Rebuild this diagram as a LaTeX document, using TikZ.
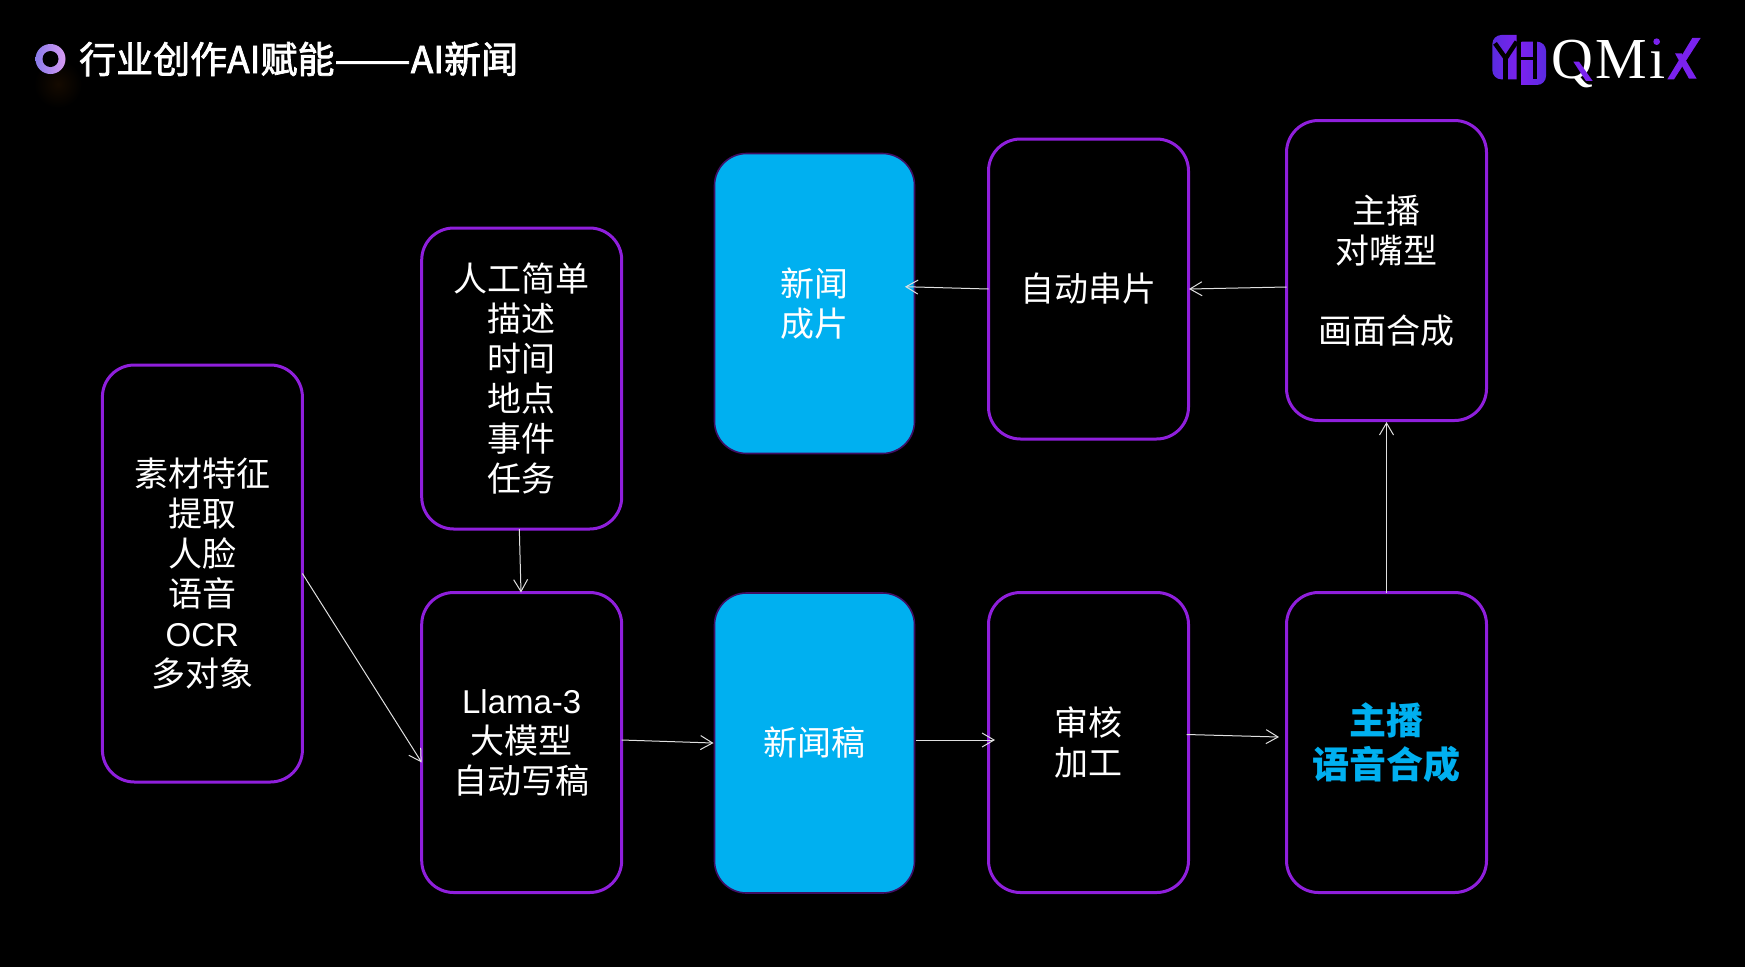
\documentclass[tikz,border=0pt]{standalone}
\usepackage{fontspec}
\setmainfont{Noto Sans CJK SC}
\newfontfamily\titlefont[FakeBold=2]{Noto Sans CJK SC}
\newfontfamily\logofont{Liberation Serif}
\newfontfamily\latinpart{Liberation Sans}
\usetikzlibrary{arrows.meta,calc,shadings}
\definecolor{boxpurple}{HTML}{8F1FDC}
\definecolor{newsblue}{HTML}{00B0F0}
\definecolor{logopurple}{HTML}{7A22EE}
\definecolor{logodeep}{HTML}{5A2BE0}
\definecolor{ringl}{HTML}{8A7BEA}
\definecolor{ringr}{HTML}{D79BF2}
\tikzset{
  flowbox/.style={draw=boxpurple,line width=3pt,rounded corners=32pt,minimum width=200pt,outer sep=0pt,anchor=north west,inner sep=0pt,text=white,align=center,font=\fontsize{34}{40}\selectfont},
  bluebox/.style={flowbox,draw=boxpurple!45!black,line width=1.6pt,fill=newsblue},
  logoletter/.style={anchor=base west,inner sep=0pt,text=white,font=\fontsize{58}{60}\logofont},
  arr/.style={draw=white!88!black,line width=1pt,-{Straight Barb[length=12pt,width=14pt,line width=1pt]}}
}
\begin{document}
\begin{tikzpicture}[x=1pt,y=-1pt]
\fill[black] (0,0) rectangle (1745,967);
\useasboundingbox (0,0) rectangle (1745,967);
% title marker
\shade[inner color=orange!8!black,outer color=black] (58,84) circle (24);
\shade[left color=ringl,right color=ringr] (50.5,59) circle (15);
\fill[black] (50.5,59) circle (8);
\node[anchor=west,inner sep=0pt,text=white,font=\fontsize{37}{40}\titlefont] (title) at (79,59) {行业创作AI赋能\scalebox{1.23}[1]{——}AI新闻};
% logo
\node[logoletter] (logoQ) at (1551.5,78.3) {Q};
\node[logoletter] (logoM) at (1595,78.3) {M};
\node[logoletter] (logoI) at (1649,78.3) {ı};
\begin{scope}[shift={(1460pt,0pt)},x=0.3333pt,y=-0.3333pt]
  \shade[left color=logodeep,right color=logopurple] (170,105) [rounded corners=9pt] -- (97,105) -- (97,238) [sharp corners] -- (170,238) -- cycle;
  \shade[left color=logopurple,right color=logodeep] (185,125) [rounded corners=9pt] -- (258,125) -- (258,255) [sharp corners] -- (185,255) -- cycle;
  \draw[black,line width=4.5pt] (105,130) -- (137,175) -- (170,125);
  \draw[black,line width=4.5pt] (137,175) -- (137,240);
  \draw[black,line width=3.5pt] (225,123) -- (225,236);
  \draw[black,line width=3.5pt] (183,175) -- (225,175);
  \fill[logopurple] (340,185) -- (357,185) -- (398,243) -- (378,243) -- cycle;
  \fill[logopurple] (590,125) circle (10);
  \fill[logopurple] (697,114) -- (722,114) -- (642,238) -- (622,238) -- cycle;
  \fill[logopurple] (645,160) -- (665,160) -- (710,236) -- (687,236) -- cycle;
\end{scope}
% boxes
\node[flowbox,minimum height=417pt] (A) at (102.4,365) {素材特征\\提取\\人脸\\语音\\{\latinpart\fontsize{33}{40}\selectfont OCR}\\多对象};
\node[flowbox,minimum height=301pt] (B) at (421.7,228) {人工简单\\描述\\时间\\地点\\事件\\任务};
\node[flowbox,minimum height=300pt] (C) at (421.7,592.5) {{\latinpart\fontsize{33}{40}\selectfont Llama-3}\\大模型\\自动写稿};
\node[bluebox,minimum height=300pt] (D) at (714.5,593) {新闻稿};
\node[flowbox,minimum height=300pt] (E) at (988.5,592.5) {审核\\加工};
\node[flowbox,minimum height=300pt,text=newsblue,font=\fontsize{37}{44.5}\selectfont\bfseries] (F) at (1286.5,592.5) {主播\\语音合成};
\node[bluebox,minimum height=300pt] (G) at (714.5,153.5) {新闻\\成片};
\node[flowbox,minimum height=300pt] (H) at (988.5,139) {自动串片};
\node[flowbox,minimum height=300pt] (I) at (1286.5,120.5) {主播\\对嘴型\\\\画面合成};
% connectors
\draw[arr] (A.east) -- ([yshift=-20pt]C.west);
\draw[arr] ([xshift=-2.4pt]B.south) -- ([xshift=-0.7pt]C.north);
\draw[arr] ([yshift=2.5pt]C.east) -- ([xshift=-1pt]D.west);
\draw[arr] ([xshift=1.5pt,yshift=3pt]D.east) -- ([xshift=6.5pt,yshift=2.5pt]E.west);
\draw[arr] ([xshift=-2pt,yshift=8pt]E.east) -- ([xshift=-7.5pt,yshift=5.5pt]F.west);
\draw[arr] (F.north) -- ([yshift=-1.5pt]I.south);
\draw[arr] ([yshift=-16.5pt]I.west) -- ([xshift=0.5pt]H.east);
\draw[arr] (H.west) -- ([xshift=-9.5pt,yshift=16.8pt]G.east);
\end{tikzpicture}
\end{document}
